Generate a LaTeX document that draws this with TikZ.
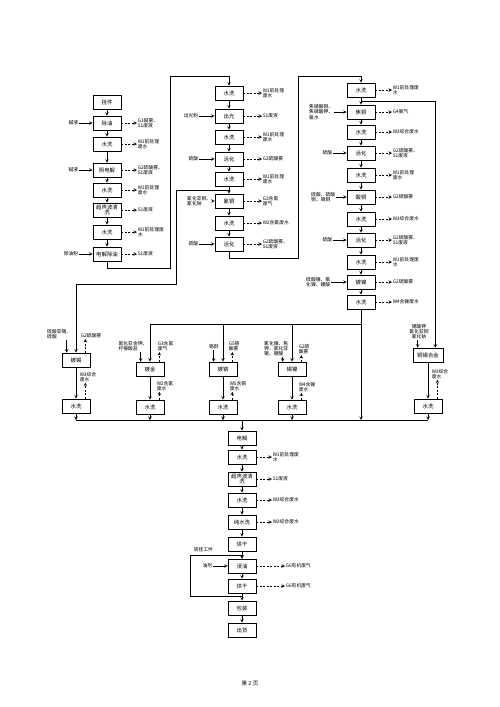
\documentclass[tikz,border=0pt]{standalone}
\usepackage{fontspec}
\setmainfont{Noto Sans CJK SC}
\tikzset{
  proc/.style={draw,minimum width=28pt,minimum height=14pt,inner sep=0.5pt,align=center,font=\fontsize{5.4}{5.8}\selectfont},
  note/.style={inner sep=0.5pt,align=left,font=\fontsize{4.8}{5.4}\selectfont},
  waste/.style={->,dash pattern=on 2pt off 1.5pt},
}
\begin{document}
\begin{tikzpicture}[>=stealth,x=1pt,y=-1pt,line width=0.55pt]
\useasboundingbox (0,0) rectangle (500,707);
% first line
\node[proc] (a1) at (107,102) {挂件};
\node[proc] (a2) at (107,123) {除油};
\node[proc] (a3) at (107,144) {水洗};
\node[proc] (a4) at (107,170) {阴电解};
\node[proc] (a5) at (107,190) {水洗};
\node[proc] (a6) at (107,210) {超声波清\\洗};
\node[proc] (a7) at (107,232) {水洗};
\node[proc] (a8) at (107,254) {电解除油};
\foreach \i [count=\j from 2] in {1,...,7} \draw[->] (a\i) -- (a\j);
\node[note,anchor=east] (ia2) at (79,123) {碱液};
\node[note,anchor=east] (ia4) at (79,170) {碱液};
\node[note,anchor=east] (ia8) at (79,254) {除油粉};
\foreach \n in {2,4,8} \draw[->] (ia\n) -- (a\n);
\node[note,anchor=west] (oa2) at (137,123) {G1碱雾、\\S1废液};
\node[note,anchor=west] (oa3) at (137,144) {W1前处理\\废水};
\node[note,anchor=west] (oa4) at (137,170) {G2硫酸雾、\\S1废液};
\node[note,anchor=west] (oa5) at (137,190) {W1前处理\\废水};
\node[note,anchor=west] (oa6) at (137,210) {S1废液};
\node[note,anchor=west] (oa7) at (137,232) {W1前处理废\\水};
\node[note,anchor=west] (oa8) at (137,254) {S1废液};
\foreach \n in {2,...,8} \draw[waste] (a\n) -- (oa\n);

% second line
\node[proc] (b1) at (229,93) {水洗};
\node[proc] (b2) at (229,116) {出光};
\node[proc] (b3) at (229,137) {水洗};
\node[proc] (b4) at (229,159) {活化};
\node[proc] (b5) at (229,179) {水洗};
\node[proc] (b6) at (229,201) {氰铜};
\node[proc] (b7) at (229,223) {水洗};
\node[proc] (b8) at (229,244) {活化};
\foreach \i [count=\j from 2] in {1,...,7} \draw[->] (b\i) -- (b\j);
\node[note,anchor=east] (ib2) at (199,116) {出光粉};
\node[note,anchor=east] (ib4) at (199,159) {硫酸};
\node[note,anchor=east] (ib6) at (212,201) {氰化亚铜、\\氰化钠};
\node[note,anchor=east] (ib8) at (199,244) {硫酸};
\foreach \n in {2,4,6,8} \draw[->] (ib\n) -- (b\n);
\node[note,anchor=west] (ob1) at (262,93) {W1前处理\\废水};
\node[note,anchor=west] (ob2) at (262,116) {S1废液};
\node[note,anchor=west] (ob3) at (262,137) {W1前处理\\废水};
\node[note,anchor=west] (ob4) at (262,159) {G2硫酸雾};
\node[note,anchor=west] (ob5) at (262,179) {W1前处理\\废水};
\node[note,anchor=west] (ob6) at (262,201) {G3含氰\\废气};
\node[note,anchor=west] (ob7) at (262,223) {W2含氰废水};
\node[note,anchor=west] (ob8) at (262,244) {G2硫酸雾、\\S1废液};
\foreach \n in {1,...,8} \draw[waste] (b\n) -- (ob\n);

% third line
\node[proc] (c1) at (361,90) {水洗};
\node[proc] (c2) at (361,112) {焦铜};
\node[proc] (c3) at (361,132) {水洗};
\node[proc] (c4) at (361,153) {活化};
\node[proc] (c5) at (361,175) {水洗};
\node[proc] (c6) at (361,197) {酸铜};
\node[proc] (c7) at (361,219) {水洗};
\node[proc] (c8) at (361,240) {活化};
\node[proc] (c9) at (361,262) {水洗};
\node[proc] (c10) at (361,282) {镀镍};
\node[proc] (c11) at (361,302) {水洗};
\foreach \i [count=\j from 2] in {1,...,10} \draw[->] (c\i) -- (c\j);
\node[note,anchor=east] (ic2) at (334,112) {焦磷酸铜、\\焦磷酸钾、\\氨水};
\node[note,anchor=east] (ic4) at (333,153) {硫酸};
\node[note,anchor=east] (ic6) at (336,197) {硫酸、硫酸\\铜、磷铜};
\node[note,anchor=east] (ic8) at (333,240) {硫酸};
\node[note,anchor=east] (ic10) at (331,282) {硫酸镍、氯\\化镍、硼酸};
\foreach \n in {2,4,6,8,10} \draw[->] (ic\n) -- (c\n);
\node[note,anchor=west] (oc1) at (392,90) {W1前处理废\\水};
\node[note,anchor=west] (oc2) at (392,112) {G4氨气};
\node[note,anchor=west] (oc3) at (392,132) {W3综合废水};
\node[note,anchor=west] (oc4) at (392,153) {G2硫酸雾、\\S1废液};
\node[note,anchor=west] (oc5) at (392,175) {W1前处理\\废水};
\node[note,anchor=west] (oc6) at (392,197) {G2硫酸雾};
\node[note,anchor=west] (oc7) at (392,219) {W3综合废水};
\node[note,anchor=west] (oc8) at (392,240) {G2硫酸雾、\\S1废液};
\node[note,anchor=west] (oc9) at (392,262) {W1前处理废\\水};
\node[note,anchor=west] (oc10) at (392,282) {G2硫酸雾};
\node[note,anchor=west] (oc11) at (392,302) {W4含镍废水};
\foreach \n in {1,...,11} \draw[waste] (c\n) -- (oc\n);

% links between lines
\draw[->] (a8.south) -- ++(0,7) -| (170,76) -| (b1.north);
\draw[->] (b8.south) -- ++(0,7) -| (298,76) -| (c1.north);

% plating branches
\node[proc] (gA) at (76,360) {镀锡};
\node[proc] (gB) at (150,369) {镀金};
\node[proc] (gC) at (223,369) {镀铬};
\node[proc] (gD) at (292,369) {锡镍};
\node[proc,minimum width=30pt] (gE) at (428,355) {铜锡合金};
\node[proc] (xA) at (76,406) {水洗};
\node[proc] (xB) at (150,407) {水洗};
\node[proc] (xC) at (223,407) {水洗};
\node[proc] (xD) at (292,407) {水洗};
\node[proc] (xE) at (428,406) {水洗};
\foreach \n in {A,...,E} \draw[->] (g\n) -- (x\n);
\node[note,anchor=south east] (iA) at (72,340) {硫酸亚锡、\\硫酸};
\node[note,anchor=south] (iB) at (133,352) {氰化亚金钾、\\柠檬酸盐};
\node[note,anchor=south] (iC) at (214,350) {铬酐};
\node[note,anchor=south east] (iD) at (289,357) {氯化镍、焦\\钾、氯化亚\\锡、硼酸};
\node[note,anchor=south,align=center] (iE) at (419,340) {锡酸钾\\氰化亚铜\\氰化钠};
\foreach \n in {A,...,E} \draw[->] ([xshift=5pt]g\n.north west |- i\n.south) -- ([xshift=5pt]g\n.north west);
\node[note,anchor=south west] (oA) at (80,339) {G2硫酸雾};
\node[note,anchor=south west] (oB) at (157,352) {G3含氰\\废气};
\node[note,anchor=south west] (oC) at (228,352) {G5铬\\酸雾};
\node[note,anchor=south west] (oD) at (298,355) {G2硫\\酸雾};
\foreach \n in {A,...,D} \draw[waste] ([xshift=-5pt]g\n.north east) -- ([xshift=-5pt]g\n.north east |- o\n.south);
\node[note,anchor=west] (wA) at (79,377) {W3综合\\废水};
\node[note,anchor=west] (wB) at (156,386) {W2含氰\\废水};
\node[note,anchor=west] (wC) at (229,386) {W5含铬\\废水};
\node[note,anchor=west] (wD) at (298,387) {W4含镍\\废水};
\node[note,anchor=west] (wE) at (431,374) {W3综合\\废水};
\foreach \n in {A,...,E} \draw[waste] ([xshift=-5pt]x\n.north east) -- ([xshift=-5pt]x\n.north east |- w\n.south);

% feeds into branches
\coordinate (j1) at (361,101);
\coordinate (j2) at (229,190);
\coordinate (tb) at (361,324);
\draw[->] (j1) -| ([xshift=-8pt]gE.north east);
\draw[->] (j2) -| (176,284) -| (gA.north);
\draw[->] (tb) -| (gB.north);
\draw[->] (gC.north |- tb) -- (gC.north);
\draw[->] (gD.north |- tb) -- (gD.north);

% collecting line
\coordinate (busL) at (76,420);
\coordinate (busR) at (428,420);
\draw (busL) -- (busR);
\foreach \n in {A,...,E} \draw[->] (x\n.south) -- (x\n.south |- busL);
\draw[->] (c11.south) -- (c11.south |- busL);

% final line
\node[proc] (d1) at (242,438) {电解};
\node[proc] (d2) at (242,457) {水洗};
\node[proc] (d3) at (242,479) {超声波清\\洗};
\node[proc] (d4) at (242,500) {水洗};
\node[proc] (d5) at (242,522) {纯水洗};
\node[proc] (d6) at (242,544) {烘干};
\node[proc] (d7) at (242,566) {浸油};
\node[proc] (d8) at (242,586) {烘干};
\node[proc] (d9) at (242,608) {包装};
\node[proc] (d10) at (242,630) {出货};
\draw[->] (d1.north |- busL) -- (d1.north);
\foreach \i [count=\j from 2] in {1,...,9} \draw[->] (d\i) -- (d\j);
\node[note,anchor=west] (od2) at (272,457) {W1前处理废\\水};
\node[note,anchor=west] (od3) at (272,479) {S1废液};
\node[note,anchor=west] (od4) at (272,500) {W3综合废水};
\node[note,anchor=west] (od5) at (272,522) {W3综合废水};
\node[note,anchor=west] (od7) at (285,566) {G6有机废气};
\node[note,anchor=west] (od8) at (285,586) {G6有机废气};
\foreach \n in {2,3,4,5,7,8} \draw[waste] (d\n) -- (od\n);
\node[note,anchor=east] (id7) at (213,566) {油剂};
\draw[->] (id7) -- (d7);
\coordinate (j3) at (242,596);
\draw[->] (j3) -| (190,555) -| (d7.north);
\node[note,anchor=south west] (turn) at (193,553) {转挂工件};

\node[font=\fontsize{5.5}{6}\selectfont] (pg) at (250,683) {第 2 页};
\end{tikzpicture}
\end{document}
